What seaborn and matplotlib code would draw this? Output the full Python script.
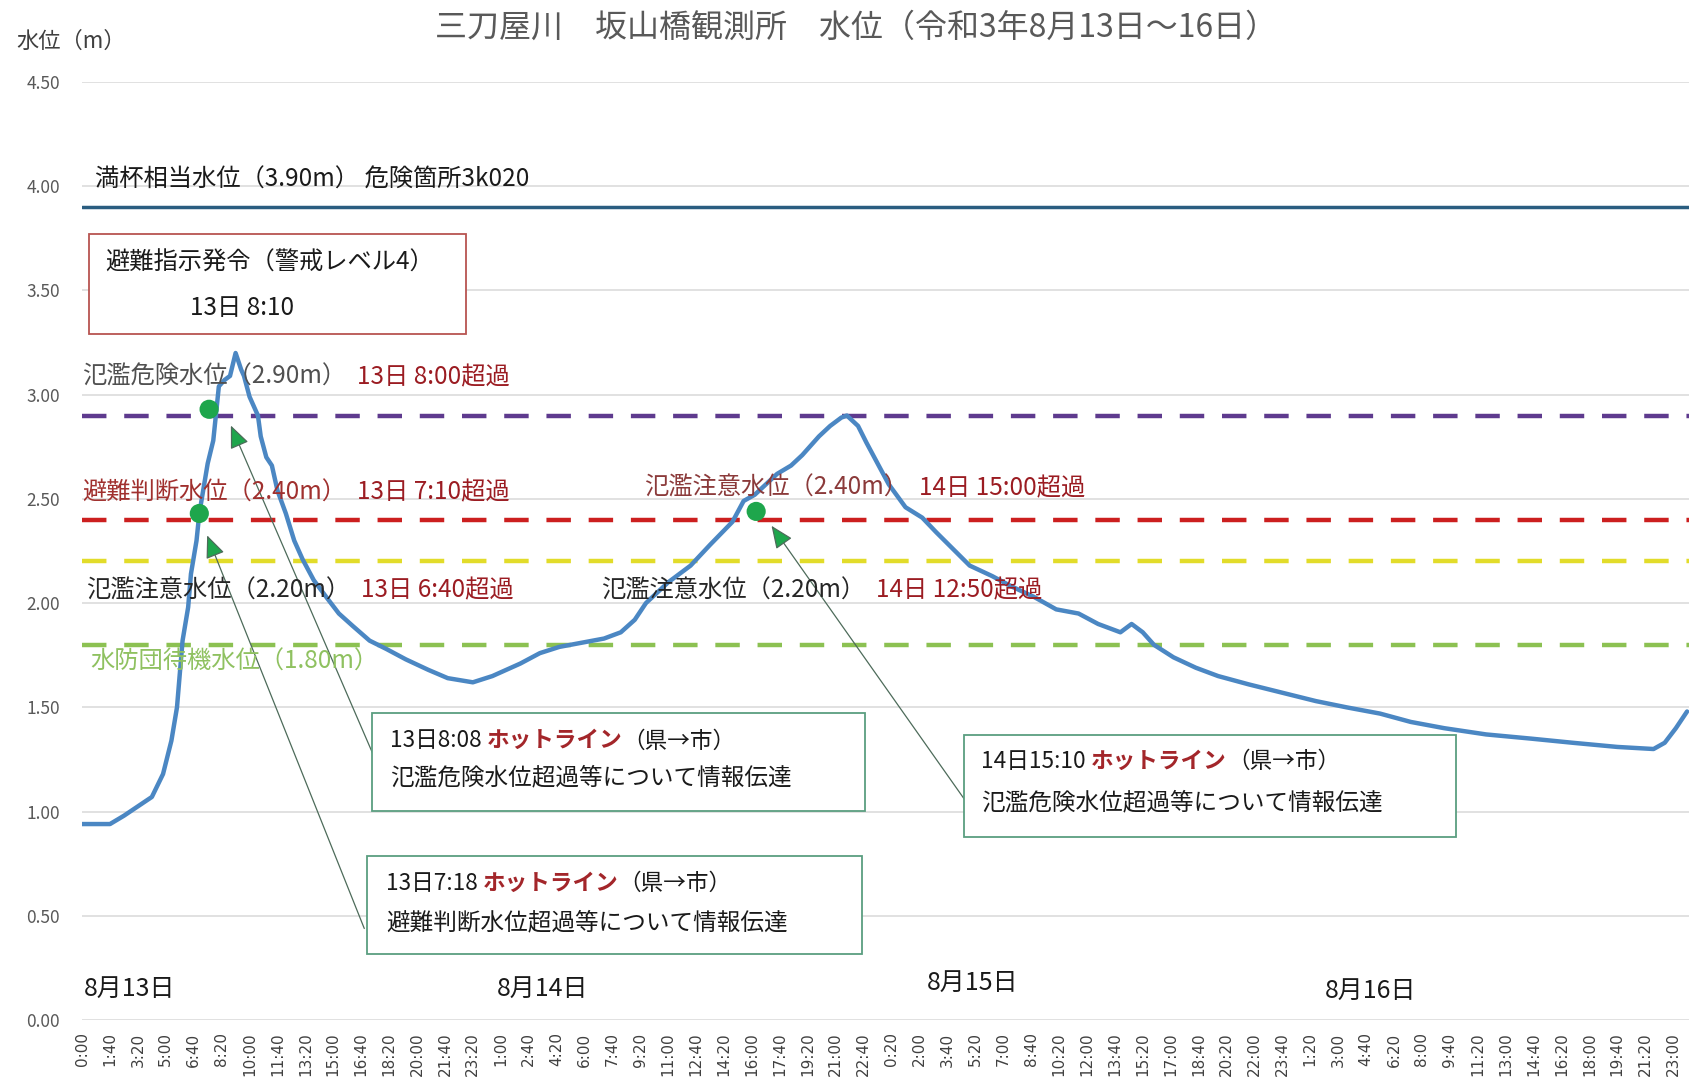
import matplotlib
matplotlib.use("Agg")
import numpy as np
import matplotlib.pyplot as plt
import seaborn as sns
from matplotlib.patches import Rectangle

sns.set_theme(style="whitegrid")
plt.rcParams['font.family'] = ['Noto Sans CJK JP', 'DejaVu Sans']

# observed water level: minutes elapsed from 8/13 0:00, level in m
obs_min = [0, 100, 150, 250, 290, 320, 340, 350, 360, 380, 390, 410, 420, 440, 450,
           470, 480, 490, 510, 530, 550, 570, 580, 600, 630, 640, 660, 680, 700, 730,
           760, 790, 830, 880, 920, 970, 1030, 1090, 1160, 1240, 1310, 1400, 1470, 1570,
           1640, 1710, 1790, 1870, 1930, 1980, 2020, 2100, 2180, 2250, 2330, 2370, 2410,
           2450, 2490, 2540, 2580, 2640, 2680, 2720, 2740, 2780, 2810, 2850, 2890, 2950,
           3010, 3060, 3120, 3180, 3260, 3330, 3410, 3490, 3570, 3640, 3720, 3760, 3800,
           3840, 3910, 3990, 4070, 4180, 4300, 4420, 4530, 4650, 4760, 4880, 5030, 5190,
           5340, 5500, 5630, 5670, 5710, 5750]
obs_level = [0.94, 0.94, 0.98, 1.07, 1.18, 1.34, 1.50, 1.66, 1.82, 1.98, 2.14, 2.30, 2.43,
             2.59, 2.67, 2.78, 2.91, 3.04, 3.07, 3.09, 3.20, 3.12, 3.09, 2.99, 2.90, 2.80,
             2.70, 2.66, 2.54, 2.43, 2.30, 2.21, 2.11, 2.02, 1.95, 1.89, 1.82, 1.78, 1.73,
             1.68, 1.64, 1.62, 1.65, 1.71, 1.76, 1.79, 1.81, 1.83, 1.86, 1.92, 2.00, 2.10,
             2.18, 2.28, 2.39, 2.49, 2.52, 2.57, 2.62, 2.66, 2.71, 2.80, 2.85, 2.89, 2.90,
             2.85, 2.77, 2.67, 2.57, 2.46, 2.41, 2.34, 2.26, 2.18, 2.13, 2.08, 2.03, 1.97,
             1.95, 1.90, 1.86, 1.90, 1.86, 1.80, 1.74, 1.69, 1.65, 1.61, 1.57, 1.53, 1.50,
             1.47, 1.43, 1.40, 1.37, 1.35, 1.33, 1.31, 1.30, 1.33, 1.40, 1.48]

# threshold levels
threshold_levels = [3.90, 2.90, 2.40, 2.20, 1.80]
threshold_colors = ['#2a5d80', '#5e3a8e', '#cc1f1f', '#e2dc2a', '#8cc152']
threshold_dashed = [False, True, True, True, True]

# exceedance points (green dots)
dot_min = [420, 455, 2415]
dot_level = [2.43, 2.93, 2.44]

day_labels = ['8月13日', '8月14日', '8月15日', '8月16日']
day_label_min = [170, 1650, 3190, 4615]
day_label_level = [0.15, 0.15, 0.176, 0.14]

tick_min = np.arange(0, 5701, 100)
tick_labels = [f"{(m % 1440) // 60}:{m % 60:02d}" for m in tick_min]
ytick_vals = np.arange(0, 4.51, 0.5)

fig = plt.figure(figsize=(16.89, 10.91), dpi=100)
ax = fig.add_axes([0.0486, 0.0651, 0.9514, 0.8597])

ax.set_xlim(0, 5757)
ax.set_ylim(0, 4.5)

for lev, col, dashed in zip(threshold_levels, threshold_colors, threshold_dashed):
    if dashed:
        ax.axhline(lev, color=col, lw=3.2, dashes=(5.5, 4.0), zorder=2)
    else:
        ax.axhline(lev, color=col, lw=2.5, zorder=2)

sns.lineplot(x=obs_min, y=obs_level, ax=ax, color='#4b87c3', linewidth=3.2,
             estimator=None, zorder=3)
sns.scatterplot(x=dot_min, y=dot_level, ax=ax, color='#1ea64c', s=190,
                edgecolor='none', zorder=4)

ax.set_xticks(tick_min)
ax.set_xticklabels(tick_labels, rotation=90, family='DejaVu Sans')
ax.set_yticks(ytick_vals)
ax.set_yticklabels([f"{v:.2f}" for v in ytick_vals])
ax.tick_params(axis='x', length=0, pad=9, labelsize=11, labelcolor='#404040')
ax.tick_params(axis='y', length=0, pad=16, labelsize=12.5, labelcolor='#595959')
ax.grid(axis='x', visible=False)
ax.grid(axis='y', color='#d9d9d9', lw=1.1)
ax.set_xlabel('')
ax.set_ylabel('')
for s in ax.spines.values():
    s.set_visible(False)

fs = 17.5
dark_red = '#9b1c22'


def label_pair(x, y, first, first_color, second=None):
    t = ax.text(x, y, first, color=first_color, fontsize=fs, va='center', ha='left', zorder=5)
    if second:
        ax.annotate('  ' + second, xy=(1, 0), xycoords=t, ha='left', va='bottom',
                    color=dark_red, fontsize=fs, zorder=5)
    return t


label_pair(45, 4.03, '満杯相当水位（3.90m） 危険箇所3k020', '#1a1a1a')
label_pair(0, 3.085, '氾濫危険水位（2.90m）', '#505050', '13日 8:00超過')
label_pair(0, 2.53, '避難判断水位（2.40m）', '#a0302e', '13日 7:10超過')
label_pair(14, 2.06, '氾濫注意水位（2.20m）', '#262626', '13日 6:40超過')
label_pair(30, 1.72, '水防団待機水位（1.80m）', '#8fc160')
label_pair(2014, 2.553, '氾濫注意水位（2.40m）', '#8b3a3a', '14日 15:00超過')
label_pair(1860, 2.06, '氾濫注意水位（2.20m）', '#262626', '14日 12:50超過')

for lab, m, lev in zip(day_labels, day_label_min, day_label_level):
    ax.text(m, lev, lab, fontsize=18, ha='center', va='center', color='#1a1a1a')

# evacuation order box
ax.add_patch(Rectangle((25, 3.292), 1351, 0.48, fill=True, fc='white', ec='#b85450',
                       lw=1.3, zorder=5))
ax.text(84, 3.633, '避難指示発令（警戒レベル4）', fontsize=17.5, va='center', color='#1a1a1a', zorder=6)
ax.text(386, 3.416, '13日 8:10', fontsize=17.5, va='center', color='#1a1a1a', zorder=6)

# hotline boxes
boxes = [
    ((1039, 1.003), 1766, 0.47, (1103, 1.339, 1.162), '13日8:08', '氾濫危険水位超過等について情報伝達'),
    ((1021, 0.317), 1774, 0.47, (1088, 0.657, 0.465), '13日7:18', '避難判断水位超過等について情報伝達'),
    ((3160, 0.878), 1763, 0.49, (3222, 1.240, 1.044), '14日15:10', '氾濫危険水位超過等について情報伝達'),
]
bfs = 16.3
for (x0, y0), w, h, (tx, ty1, ty2), when, msg in boxes:
    ax.add_patch(Rectangle((x0, y0), w, h, fc='white', ec='#5a9e80', lw=1.3, zorder=5))
    t1 = ax.text(tx, ty1, when + ' ', fontsize=bfs, va='center', color='#1a1a1a', zorder=6)
    t2 = ax.annotate('ホットライン', xy=(1, 0), xycoords=t1, ha='left', va='bottom',
                     fontsize=bfs, color='#a3262a', fontweight='bold', zorder=6)
    ax.annotate('（県→市）', xy=(1, 0), xycoords=t2, ha='left', va='bottom',
                fontsize=bfs, color='#1a1a1a', zorder=6)
    ax.text(tx, ty2, msg, fontsize=bfs + 0.7, va='center', color='#1a1a1a', zorder=6)

arrows = [((1042, 1.276), (533, 2.852)),
          ((1011, 0.439), (448, 2.325)),
          ((3161, 1.059), (2470, 2.371))]
for tail, head in arrows:
    ax.annotate('', xy=head, xytext=tail,
                arrowprops=dict(arrowstyle='-|>,head_length=0.7,head_width=0.3',
                                fc='#1ea64c', ec='#4d6b5a', lw=0.9, mutation_scale=20,
                                shrinkA=0, shrinkB=0), zorder=4)

fig.text(0.507, 0.975, '三刀屋川　坂山橋観測所　水位（令和3年8月13日～16日）',
         fontsize=23, ha='center', va='center', color='#595959')
fig.text(0.0095, 0.962, '水位（m）', fontsize=16, ha='left', va='center', color='#404040')

fig.savefig('out.png', dpi=100)
